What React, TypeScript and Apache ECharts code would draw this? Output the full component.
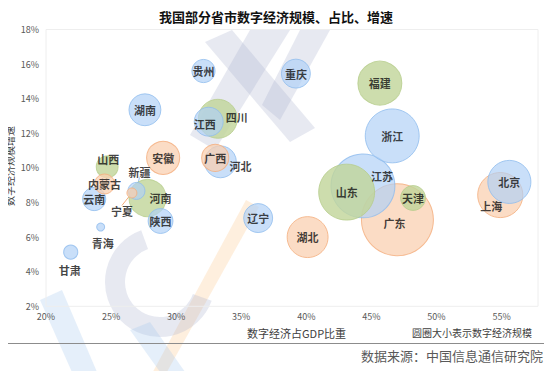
import React, { useEffect, useRef } from "react";
import * as echarts from "echarts";

// Province names
const provinces = [
  "广东", "江苏", "山东", "浙江", "上海", "福建", "北京", "湖北", "四川", "河南",
  "安徽", "湖南", "河北", "重庆", "辽宁", "江西", "广西", "陕西", "天津", "贵州",
  "云南", "山西", "内蒙古", "新疆", "甘肃", "宁夏", "青海",
];
// Digital economy share of GDP (x)
const gdpShare = [
  0.470, 0.4435, 0.431, 0.466, 0.549, 0.4565, 0.556, 0.401, 0.332, 0.278,
  0.290, 0.276, 0.334, 0.392, 0.363, 0.325, 0.330, 0.288, 0.482, 0.321,
  0.237, 0.247, 0.245, 0.2695, 0.219, 0.266, 0.242,
];
// Digital economy growth rate (y)
const growthRate = [
  0.070, 0.0896, 0.086, 0.1185, 0.0843, 0.149, 0.0919, 0.060, 0.1284, 0.0826,
  0.1058, 0.1336, 0.1035, 0.1545, 0.071, 0.1267, 0.1058, 0.0693, 0.0826, 0.156,
  0.082, 0.1006, 0.0907, 0.0867, 0.0513, 0.0855, 0.0658,
];
// Digital economy scale (万亿元, bubble size)
const ecoScale = [
  2.60, 2.05, 1.57, 1.46, 1.02, 0.97, 0.93, 0.84, 0.76, 0.69,
  0.55, 0.51, 0.51, 0.42, 0.42, 0.42, 0.37, 0.31, 0.31, 0.27,
  0.27, 0.24, 0.20, 0.145, 0.10, 0.05, 0.032,
];
// Colour group of each bubble
const colorGroup = [
  "orange", "blue", "green", "blue", "orange", "green", "blue", "orange", "green", "green",
  "orange", "blue", "blue", "blue", "blue", "blue", "orange", "blue", "green", "blue",
  "blue", "green", "orange", "blue", "blue", "orange", "blue",
];

const xTicks = [0.2, 0.25, 0.3, 0.35, 0.4, 0.45, 0.5, 0.55];
const yTicks = [0.02, 0.04, 0.06, 0.08, 0.1, 0.12, 0.14, 0.16, 0.18];

const palette: Record<string, { fill: string; border: string }> = {
  blue: { fill: "rgba(176,208,246,0.85)", border: "#8fbcee" },
  green: { fill: "#c0d598", border: "#b6cd8c" },
  orange: { fill: "rgba(249,206,174,0.9)", border: "#f4ad7c" },
};

// label offsets (style only)
const labelOffset: Record<string, [number, number]> = {
  江苏: [19, -10],
  四川: [19, -2],
  江西: [-4, 2],
  河北: [20, 4],
  山西: [1, -8],
  新疆: [3, -19],
  宁夏: [-10, 18],
  河南: [13, 0],
  青海: [2, 16],
  甘肃: [-1, 18],
  上海: [-9, 11],
  广东: [-3, 3],
};

export default function App() {
  const ref = useRef<HTMLDivElement>(null);
  useEffect(() => {
    if (!ref.current) return;
    const chart = echarts.init(ref.current, undefined, { renderer: "svg" });
    const order = provinces.map((_, i) => i).sort((a, b) => ecoScale[b] - ecoScale[a]);
    const data = order.map((i) => {
      const c = palette[colorGroup[i]];
      const lineShow = provinces[i] === "新疆" || provinces[i] === "宁夏";
      return {
        name: provinces[i],
        value: [gdpShare[i], growthRate[i], ecoScale[i]],
        itemStyle: { color: c.fill, borderColor: c.border, borderWidth: 1 },
        labelLine: { show: lineShow, lineStyle: { color: c.border, width: 1 } },
      };
    });
    const names = order.map((i) => provinces[i]);
    const font = "'Noto Sans CJK SC', 'Noto Sans', sans-serif";
    const wmGray = "rgba(170,176,205,0.28)";
    const wmBlue = "rgba(160,196,236,0.28)";
    chart.setOption({
      animation: false,
      backgroundColor: "#ffffff",
      title: {
        text: "我国部分省市数字经济规模、占比、增速",
        left: "center",
        top: 5,
        textStyle: { fontSize: 13, fontWeight: "bold", color: "#111", fontFamily: font },
      },
      grid: {
        left: 46,
        right: 14,
        top: 29.5,
        bottom: 72.7,
        show: true,
        borderColor: "#eeeeee",
        borderWidth: 1,
        outerBoundsMode: "none",
        containLabel: false,
      },
      xAxis: {
        type: "value",
        min: 0.2,
        max: 0.578,
        interval: 0.05,
        axisLine: { show: false },
        axisTick: { show: false },
        splitLine: { show: false },
        axisLabel: {
          fontSize: 9,
          color: "#595959",
          fontFamily: font,
          margin: 6,
          showMaxLabel: false,
          formatter: (v: number) =>
            xTicks.some((t) => Math.abs(t - v) < 1e-6) ? Math.round(v * 100) + "%" : "",
        },
      },
      yAxis: {
        type: "value",
        min: 0.02,
        max: 0.18,
        interval: 0.02,
        axisLine: { show: false },
        axisTick: { show: false },
        splitLine: { show: false },
        axisLabel: {
          fontSize: 9,
          color: "#595959",
          fontFamily: font,
          margin: 7,
          formatter: (v: number) =>
            yTicks.some((t) => Math.abs(t - v) < 1e-6) ? Math.round(v * 100) + "%" : "",
        },
      },
      graphic: [
        // faint watermark
        {
          type: "polygon",
          z: -10,
          shape: { points: [[246, 200], [259, 207], [163, 379], [149, 379]] },
          style: { fill: "rgba(252,208,160,0.35)" },
        },
        {
          type: "polygon",
          z: -10,
          shape: { points: [[205, 42], [232, 30], [315, 128], [290, 142]] },
          style: { fill: wmGray },
        },
        {
          type: "polygon",
          z: -10,
          shape: { points: [[250, 30], [290, 30], [215, 150], [190, 135]] },
          style: { fill: wmGray },
        },
        {
          type: "polygon",
          z: -10,
          shape: { points: [[300, 30], [330, 30], [280, 120], [262, 105]] },
          style: { fill: wmGray },
        },
        {
          type: "arc",
          z: -10,
          shape: { cx: 160, cy: 282, r: 45, startAngle: (20 * Math.PI) / 180, endAngle: (250 * Math.PI) / 180, clockwise: true },
          style: { stroke: wmGray, lineWidth: 20, fill: "none" },
        },
        {
          type: "polygon",
          z: -10,
          shape: { points: [[40, 300], [62, 290], [100, 379], [75, 379]] },
          style: { fill: wmBlue },
        },
        {
          type: "polygon",
          z: -10,
          shape: { points: [[130, 330], [150, 322], [190, 379], [165, 379]] },
          style: { fill: wmBlue },
        },
        {
          type: "text",
          x: 9,
          y: 166,
          rotation: Math.PI / 2,
          style: {
            text: "数字经济规模增速",
            fontSize: 10,
            fill: "#404040",
            fontFamily: font,
            align: "center",
            verticalAlign: "middle",
          },
        },
        {
          type: "text",
          left: 247,
          top: 327,
          style: { text: "数字经济占GDP比重", fontSize: 11, fill: "#404040", fontFamily: font },
        },
        {
          type: "text",
          left: 412,
          top: 327,
          style: { text: "圆圈大小表示数字经济规模", fontSize: 10, fill: "#404040", fontFamily: font },
        },
        {
          type: "text",
          right: 9,
          top: 349,
          style: { text: "数据来源：中国信息通信研究院", fontSize: 13, fill: "#595959", fontFamily: font },
        },
        {
          type: "line",
          shape: { x1: 0, y1: 343.5, x2: 551.5, y2: 343.5 },
          style: { stroke: "#8c8c8c", lineWidth: 1 },
        },
        {
          type: "line",
          shape: { x1: 551.5, y1: 0, x2: 551.5, y2: 343.5 },
          style: { stroke: "#8c8c8c", lineWidth: 1 },
        },
      ],
      series: [
        {
          type: "scatter",
          data,
          symbolSize: (val: number[]) => Math.sqrt(val[2]) * 44.65,
          label: {
            show: true,
            position: "inside",
            formatter: "{b}",
            fontSize: 11,
            fontWeight: "bold",
            color: "#111",
            fontFamily: font,
          },
          labelLayout: (params: any) => {
            const off = labelOffset[names[params.dataIndex]];
            return off ? { dx: off[0], dy: off[1] } : {};
          },
        },
      ],
    });
    return () => chart.dispose();
  }, []);
  return <div ref={ref} style={{ width: 552, height: 379, margin: -8 }} />;
}
